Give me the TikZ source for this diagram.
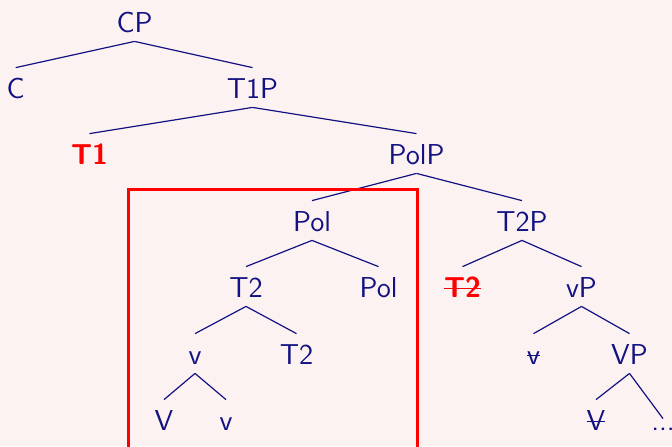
\documentclass[tikz,border=0pt]{standalone}
\usepackage{color}
\usepackage{tikz}

\definecolor{navyblue}{RGB}{18,18,130}
\definecolor{bgpink}{RGB}{253,242,242}

% struck-through copy
\newcommand{\strk}[1]{\setbox0\hbox{#1}\rlap{\raisebox{3.8pt}{\rule{\wd0}{0.6pt}}}\box0}

\begin{document}
\begin{tikzpicture}[x=0.5pt,y=-0.5pt]

      \fill[bgpink] (0,0) rectangle (672,446);
      \useasboundingbox (0,0) rectangle (672,446);
      \clip (0,0) rectangle (672,446);

      \begin{scope}[every node/.style={font=\Large\sffamily,text=navyblue,
          inner sep=1pt,text height=14pt,text depth=3.5pt,anchor=base}]
        \node (cp) at (134.5,32) {CP};
        \node (c) at (15.7,98) {C};
        \node (t1p) at (252.5,98) {T1P};
        \node[text=red] (t1) at (89.5,164) {\bfseries T1};
        \node (polp) at (416.5,164) {PolP};
        \node (pol) at (312,231) {Pol};
        \node (t2p) at (522,231) {T2P};
        \node (t2) at (246,297) {T2};
        \node (polhd) at (378.5,297) {Pol};
        \node[text=red] (t2tr) at (462.5,297) {\bfseries\strk{T2}};
        \node (vp) at (581.5,297) {vP};
        \node (v) at (195,364) {v};
        \node (t2hd) at (296.5,364) {T2};
        \node (vtr) at (533.5,364) {\strk{v}};
        \node (bigvp) at (629.5,364) {VP};
        \node (bigv) at (164,430) {V};
        \node (vhd) at (226,430) {v};
        \node (bigvtr) at (596,430) {\strk{V}};
        \node[text height=4.5pt] (dots) at (663,430) {...};
      \end{scope}

      \begin{scope}[every path/.style={draw=navyblue,line width=0.6pt}]
        \path (cp.south) -- (c.north);
        \path (cp.south) -- (t1p.north);
        \path (t1p.south) -- (t1.north);
        \path (t1p.south) -- (polp.north);
        \path (polp.south) -- (pol.north);
        \path (polp.south) -- (t2p.north);
        \path (pol.south) -- (t2.north);
        \path (pol.south) -- (polhd.north);
        \path (t2p.south) -- (t2tr.north);
        \path (t2p.south) -- (vp.north);
        \path (t2.south) -- (v.north);
        \path (t2.south) -- (t2hd.north);
        \path (vp.south) -- (vtr.north);
        \path (vp.south) -- (bigvp.north);
        \path (v.south) -- (bigv.north);
        \path (v.south) -- (vhd.north);
        \path (bigvp.south) -- (bigvtr.north);
        \path (bigvp.south) -- (dots.north);
      \end{scope}

      % box round the moved head
      \draw[red,line width=1.5pt] (128.5,189) rectangle (417,470);

\end{tikzpicture}
\end{document}
